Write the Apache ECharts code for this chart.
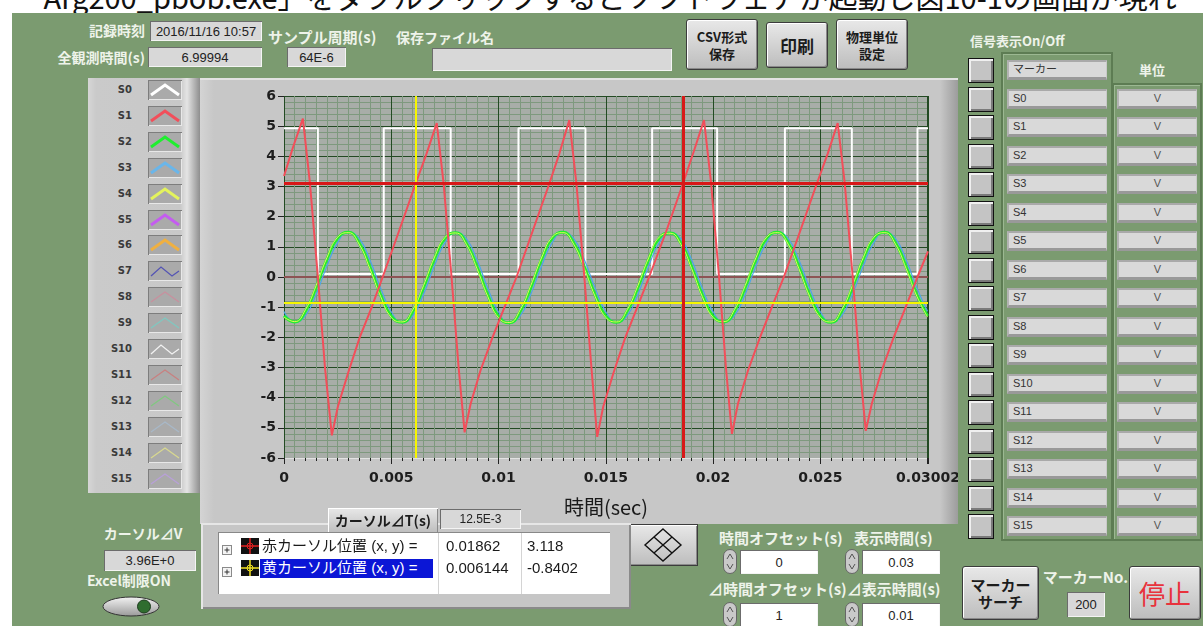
<!DOCTYPE html>
<html>
<head>
<meta charset="utf-8">
<script src="https://cdn.jsdelivr.net/npm/echarts@6/dist/echarts.min.js"></script>
<style>
html, body { margin: 0; padding: 0; width: 1203px; height: 626px; overflow: hidden; background: #fff; }
#page { position: relative; width: 1203px; height: 626px; overflow: hidden; }
.a { position: absolute; box-sizing: border-box; white-space: nowrap; }
.doc { font: 29px/32px "Noto Sans CJK JP", sans-serif; color: #111; z-index: 0; }
.green { background: #7b9b70; z-index: 1; }
.lbl { font: bold 14px/18px "Noto Sans CJK JP", sans-serif; color: #eef3ea; z-index: 2; }
.r { text-align: right; }
.c { text-align: center; }
.ind { background: #d8d8d8; box-shadow: inset 1px 1px 0 #6c6c6c, inset -1px -1px 0 #f4f4f4;
       font: 13px "Liberation Sans", "Noto Sans CJK JP", sans-serif; color: #222;
       display: flex; align-items: center; justify-content: center; z-index: 2; }
.btn { background: linear-gradient(#e8e8e8, #bdbdbd); border: 1px solid #3c3c3c; border-radius: 3px;
       box-shadow: inset 1px 1px 0 #fff, inset -1px -1px 0 #8a8a8a;
       font: bold 13px/17px "Noto Sans CJK JP", sans-serif; color: #1c1c1c;
       display: flex; flex-direction: column; align-items: center; justify-content: center; z-index: 2; }
.tog { background: #c4c4c4; border: 1px solid #111; box-shadow: inset 2px 2px 0 #f0f0f0, inset -2px -2px 0 #7a7a7a; z-index: 2; }
.nbox { background: #d9d9d9; border-top: 2px solid #a9a9a9; border-left: 2px solid #b3b3b3;
        border-bottom: 3px solid #999; border-right: 1px solid #c9c9c9;
        font: 11px/15px "Liberation Sans", "Noto Sans CJK JP", sans-serif; color: #333; padding-left: 4px; z-index: 2; }
.ubox { text-align: center; padding-left: 0; color: #555; }
.groove { border: 2px solid #5d7c53; box-shadow: inset 1px 1px 0 #9cb892; z-index: 2; }
.lpanel { background: linear-gradient(to right, #d6d6d6 0, #cacaca 8px, #c8c8c8 92px, #e4e4e4 99px, #8e8e8e 112px); z-index: 2; }
.gpanel { background: linear-gradient(to right, #d4d4d4 0, #c7c7c7 14px, #c7c7c7 740px, #9c9c9c 758px);
          box-shadow: inset 0 2px 0 #e2e2e2; z-index: 2; }
.slbl { font: bold 10px/14px "DejaVu Sans", sans-serif; color: #3a3a3a; text-align: right; z-index: 3; }
.cpanel { background: #c6c6c6; box-shadow: inset 2px 2px 0 #e6e6e6, inset -2px -2px 0 #8a8a8a; z-index: 4; }
.table { background: #fff; box-shadow: inset 1px 1px 0 #888; z-index: 5; }
.cell { font: 15px/18px "Liberation Sans", "Noto Sans CJK JP", sans-serif; color: #1a1a1a; z-index: 6; }
.sep { background: #d4d4d4; z-index: 6; }
#plot { z-index: 3; }
</style>
</head>
<body>
<div id="page"></div>
<script>
// ---- values ----
const signalNames = ['S0','S1','S2','S3','S4','S5','S6','S7','S8','S9','S10','S11','S12','S13','S14','S15'];
const signalColors = ['#ffffff','#f24e5a','#1fef2f','#6ab6ea','#e4f35c','#c45cf0','#f0b040','#5454b4',
                      '#c8909e','#80c8c0','#f2f2f2','#c88080','#80c880','#a8b8c8','#d8d890','#b8a0d8'];
const unitLabels = ['V','V','V','V','V','V','V','V','V','V','V','V','V','V','V','V'];

// S0 square wave (time in ms, volts)
const s0Ms  = [0, 1.58, 1.58, 4.65, 4.65, 7.77, 7.77, 10.93, 10.93, 14.05, 14.05, 17.16, 17.16, 20.19, 20.19, 23.35, 23.35, 26.47, 26.47, 29.53, 29.53, 30.02];
const s0Val = [4.93, 4.93, 0.1, 0.1, 4.93, 4.93, 0.1, 0.1, 4.93, 4.93, 0.1, 0.1, 4.93, 4.93, 0.1, 0.1, 4.93, 4.93, 0.1, 0.1, 4.93, 4.93];

// S1 triangle / sawtooth (time in ms, volts)
const s1Ms  = [0, 0.42, 0.88, 1.21, 1.58, 1.91, 2.23, 2.51, 2.98, 3.53, 4.09, 4.60, 5.35, 6.14, 6.65,
               7.12, 7.44, 7.81, 8.14, 8.42, 8.70, 9.16, 9.72, 10.28, 10.84, 11.58, 12.37, 12.84,
               13.30, 13.63, 14.00, 14.33, 14.60, 14.88, 15.35, 15.91, 16.47, 17.02, 17.81, 18.60, 19.12,
               19.58, 19.91, 20.28, 20.60, 20.88, 21.16, 21.63, 22.19, 22.74, 23.30, 24.05, 24.84, 25.35,
               25.81, 26.14, 26.51, 26.84, 27.12, 27.40, 27.86, 28.42, 28.98, 29.53, 30.02];
const s1Val = [3.35, 4.3, 5.25, 3.1, 0, -3.0, -5.25, -4.3, -3.2, -2.0, -1.0, 0, 1.5, 3.1, 4.1,
               5.1, 3.1, 0, -3.0, -5.15, -4.2, -3.1, -2.0, -1.0, 0, 1.5, 3.1, 4.1,
               5.2, 3.1, 0, -3.0, -5.3, -4.3, -3.2, -2.0, -1.0, 0, 1.5, 3.1, 4.2,
               5.2, 3.1, 0, -3.0, -5.2, -4.2, -3.1, -2.0, -1.0, 0, 1.5, 3.1, 4.1,
               5.1, 3.1, 0, -3.0, -5.1, -4.2, -3.1, -2.0, -1.0, 0, 0.85];

// S2 / S3 / S4 sine-like traces sampled every 0.5 ms
const sineMs = [0,0.5,1,1.5,2,2.5,3,3.5,4,4.5,5,5.5,6,6.5,7,7.5,8,8.5,9,9.5,10,10.5,11,11.5,12,12.5,13,13.5,14,14.5,
                15,15.5,16,16.5,17,17.5,18,18.5,19,19.5,20,20.5,21,21.5,22,22.5,23,23.5,24,24.5,25,25.5,26,26.5,27,27.5,28,28.5,29,29.5,30];
const s2 = [-1.29,-1.49,-1.13,-0.34,0.59,1.29,1.48,1.13,0.34,-0.59,
            -1.30,-1.50,-1.14,-0.35,0.58,1.28,1.47,1.12,0.33,-0.60,
            -1.31,-1.52,-1.15,-0.35,0.58,1.29,1.48,1.13,0.34,-0.59,
            -1.30,-1.50,-1.13,-0.34,0.59,1.30,1.46,1.12,0.34,-0.60,
            -1.30,-1.49,-1.13,-0.34,0.59,1.29,1.48,1.13,0.34,-0.59,
            -1.30,-1.50,-1.13,-0.34,0.59,1.29,1.48,1.13,0.34,-0.59,
            -1.29];
const s3 = [-1.14,-1.50,-1.28,-0.57,0.36,1.14,1.49,1.28,0.57,-0.36,
            -1.15,-1.51,-1.29,-0.58,0.35,1.13,1.48,1.27,0.56,-0.37,
            -1.16,-1.53,-1.30,-0.58,0.35,1.14,1.49,1.28,0.57,-0.36,
            -1.15,-1.51,-1.28,-0.57,0.36,1.15,1.47,1.27,0.57,-0.37,
            -1.15,-1.49,-1.28,-0.57,0.36,1.14,1.49,1.28,0.57,-0.36,
            -1.15,-1.51,-1.28,-0.57,0.36,1.14,1.49,1.28,0.57,-0.36,
            -1.14];
const s4 = [-1.33,-1.48,-1.08,-0.28,0.64,1.32,1.47,1.09,0.28,-0.64,
            -1.34,-1.49,-1.09,-0.29,0.63,1.31,1.46,1.08,0.27,-0.65,
            -1.35,-1.51,-1.10,-0.29,0.63,1.32,1.47,1.09,0.28,-0.64,
            -1.34,-1.49,-1.08,-0.28,0.64,1.33,1.45,1.08,0.28,-0.65,
            -1.34,-1.48,-1.08,-0.28,0.64,1.32,1.47,1.09,0.28,-0.64,
            -1.34,-1.49,-1.08,-0.28,0.64,1.32,1.47,1.09,0.28,-0.64,
            -1.33];
// S5..S15 all sit on 0
const zeroMs = [0, 30.02];
const zeroVal = [0, 0];

const cursorRed = [0.01862, 3.118];
const cursorYellow = [0.006144, -0.8402];

// ---- page widgets ----
const page = document.getElementById('page');
function el(x, y, w, h, cls, html, style) {
  const d = document.createElement('div');
  d.className = 'a ' + (cls || '');
  d.style.left = x + 'px';
  d.style.top = y + 'px';
  if (w != null) d.style.width = w + 'px';
  if (h != null) d.style.height = h + 'px';
  if (html != null) d.innerHTML = html;
  if (style) Object.assign(d.style, style);
  page.appendChild(d);
  return d;
}

el(8, -20, 1195, 32, 'doc', 'ー Arg200_pbob.exe」をダブルクリックするとソフトウェアが起動し図10-1の画面が現れ');
el(12, 13, 1191, 613, 'green');

// top row
el(40, 21, 105, 18, 'lbl r', '記録時刻');
el(150, 21, 112, 20, 'ind', '2016/11/16 10:57');
el(20, 48, 125, 18, 'lbl r', '全観測時間(s)');
el(148, 47, 114, 20, 'ind', '6.99994');
el(268, 28, 110, 18, 'lbl', 'サンプル周期(s)', {fontSize: '15px'});
el(287, 47, 59, 20, 'ind', '64E-6');
el(396, 28, 100, 18, 'lbl', '保存ファイル名');
el(432, 48, 240, 23, 'ind', '');
el(686, 19, 72, 51, 'btn', '<span>CSV形式</span><span>保存</span>');
el(766, 22, 62, 46, 'btn', '<span style="font-size:17px">印刷</span>');
el(836, 19, 72, 51, 'btn', '<span>物理単位</span><span>設定</span>');
el(970, 32, 130, 18, 'lbl', '信号表示On/Off', {fontSize: '13px'});
el(1117, 61, 70, 18, 'lbl c', '単位', {fontSize: '13px'});

// right signal list
el(1001, 52, 112, 489, 'groove');
el(1112, 83, 90, 458, 'groove');
['マーカー'].concat(signalNames).forEach((n, i) => {
  const top = 60 + i * 28.5;
  el(968, top - 2, 26, 25, 'tog');
  el(1007, top, 100, 20, 'nbox', n);
  if (i > 0) el(1117, top, 80, 20, 'nbox ubox', unitLabels[i - 1]);
});

// left legend
el(88, 78, 112, 415, 'lpanel');
function icon(color, thin, tail) {
  const w = thin ? 1.3 : 3;
  const pts = tail ? '3,15 13,6 24,15 31,10' : '3,15 17,5 31,15';
  return '<svg width="34" height="20"><rect x="0.5" y="0.5" width="33" height="19" fill="#aaaaaa" stroke="#7d7d7d"/>' +
         '<line x1="1" y1="19.5" x2="34" y2="19.5" stroke="#e8e8e8"/><line x1="33.5" y1="1" x2="33.5" y2="20" stroke="#e8e8e8"/>' +
         '<polyline points="' + pts + '" fill="none" stroke="' + color + '" stroke-width="' + w + '"/></svg>';
}
signalNames.forEach((n, i) => {
  const cy = 90 + i * 25.9;
  el(96, cy - 7, 36, 14, 'slbl', n);
  el(148, cy - 10, 34, 20, '', icon(signalColors[i], i >= 7, i === 7 || i === 10), {zIndex: 3});
});

// graph panel + chart
el(200, 78, 758, 446, 'gpanel');
const plot = el(200, 78, 758, 446, '', null);
plot.id = 'plot';

// cursor panel
el(201, 523, 430, 86, 'cpanel');
el(328, 508, 110, 25, 'btn', '<span style="font-size:14px">カーソル⊿T(s)</span>', {zIndex: 5, borderRadius: '0', border: 'none'});
el(440, 509, 81, 20, 'ind', '<span style="font-size:12px">12.5E-3</span>', {zIndex: 5});
el(218, 532, 392, 62, 'table');
el(438, 533, 1, 61, 'sep');
el(521, 533, 1, 61, 'sep');
function plusBox() {
  return '<svg width="10" height="10"><rect x="0.5" y="0.5" width="9" height="9" fill="#f4f4f4" stroke="#8a8a8a"/>' +
         '<line x1="2.5" y1="5" x2="7.5" y2="5" stroke="#333"/><line x1="5" y1="2.5" x2="5" y2="7.5" stroke="#333"/></svg>';
}
function crossIcon(color) {
  return '<svg width="18" height="16"><rect x="0" y="0" width="18" height="16" fill="#111"/>' +
         '<line x1="0" y1="8" x2="18" y2="8" stroke="' + color + '" stroke-width="1.5"/>' +
         '<line x1="9" y1="0" x2="9" y2="16" stroke="' + color + '" stroke-width="1.5"/>' +
         '<circle cx="9" cy="8" r="3" fill="none" stroke="' + color + '"/></svg>';
}
el(222, 541, 10, 10, '', plusBox(), {zIndex: 6});
el(241, 538, 18, 16, '', crossIcon('#e02020'), {zIndex: 6});
el(262, 537, 172, 18, 'cell', '赤カーソル位置 (x, y) =');
el(446, 537, 70, 18, 'cell', '0.01862');
el(527, 537, 70, 18, 'cell', '3.118');
el(222, 563, 10, 10, '', plusBox(), {zIndex: 6});
el(241, 560, 18, 16, '', crossIcon('#f0e020'), {zIndex: 6});
el(260, 559, 173, 19, 'cell', '黄カーソル位置 (x, y) =', {background: '#0b16d6', color: '#fff', paddingLeft: '2px'});
el(446, 559, 70, 18, 'cell', '0.006144');
el(527, 559, 70, 18, 'cell', '-0.8402');

// bottom left
el(88, 524, 110, 18, 'lbl c', 'カーソル⊿V');
el(104, 550, 92, 21, 'ind', '3.96E+0');
el(70, 571, 118, 18, 'lbl c', 'Excel制限ON');
el(102, 596, 58, 21, '', '<svg width="58" height="21"><defs><linearGradient id="tg" x1="0" y1="0" x2="0" y2="1">' +
   '<stop offset="0" stop-color="#f2f2f2"/><stop offset="1" stop-color="#9a9a9a"/></linearGradient></defs>' +
   '<ellipse cx="29" cy="10.5" rx="28" ry="9.5" fill="url(#tg)" stroke="#333"/>' +
   '<circle cx="42" cy="10.5" r="6.5" fill="#2f6d2f" stroke="#1b3b1b"/></svg>', {zIndex: 2});

// bottom right controls
el(628, 524, 70, 42, 'btn', '<svg width="40" height="36" viewBox="0 0 40 36">' +
   '<path d="M20 2 L38 18 L20 34 L2 18 Z M11 10 L29 26 M29 10 L11 26" fill="none" stroke="#111" stroke-width="1.4"/></svg>',
   {borderRadius: '0'});
function spinner() {
  return '<svg width="14" height="25"><rect x="0.5" y="0.5" width="13" height="24" rx="6.5" fill="#c9c9c9" stroke="#666"/>' +
         '<path d="M4 10 L7 5 L10 10 M4 15 L7 20 L10 15" fill="none" stroke="#555"/></svg>';
}
el(719, 529, 124, 18, 'lbl', '時間オフセット(s)', {fontSize: '15px'});
el(854, 529, 90, 18, 'lbl', '表示時間(s)', {fontSize: '15px'});
el(723, 549, 14, 25, '', spinner(), {zIndex: 2});
el(740, 550, 78, 24, 'ind', '0', {background: '#fff'});
el(845, 549, 14, 25, '', spinner(), {zIndex: 2});
el(862, 550, 78, 24, 'ind', '0.03', {background: '#fff'});
el(708, 580, 240, 18, 'lbl', '⊿時間オフセット(s)⊿表示時間(s)', {fontSize: '15px'});
el(723, 602, 14, 25, '', spinner(), {zIndex: 2});
el(740, 603, 78, 24, 'ind', '1', {background: '#fff'});
el(845, 602, 14, 25, '', spinner(), {zIndex: 2});
el(862, 603, 78, 24, 'ind', '0.01', {background: '#fff'});
el(962, 566, 77, 54, 'btn', '<span style="font-size:15px">マーカー</span><span style="font-size:15px">サーチ</span>');
el(1038, 568, 95, 18, 'lbl c', 'マーカーNo.', {fontSize: '15px'});
el(1067, 592, 38, 25, 'ind', '200');
el(1129, 566, 72, 54, 'btn', '<span style="font:26px/30px \'Noto Sans CJK JP\';color:#e8323c">停止</span>');

// ---- the chart ----
const toPairs = (ms, vals) => ms.map((t, i) => [t / 1000, vals[i]]);
const axisFont = {fontFamily: 'DejaVu Sans', fontWeight: 'bold', fontSize: 14, color: '#1e1e1e'};

const chart = echarts.init(plot);
chart.setOption({
  animation: false,
  grid: {left: 84, top: 18, width: 644, height: 362, show: true, backgroundColor: '#a8ada8', borderWidth: 0,
         containLabel: false, outerBoundsMode: 'none'},
  xAxis: {
    type: 'value', min: 0, max: 0.03002, interval: 0.005,
    axisLine: {show: true, onZero: false, lineStyle: {color: '#e2e2e2', width: 1}},
    axisTick: {show: true, length: 6, lineStyle: {color: '#222'}},
    minorTick: {show: true, splitNumber: 10, length: 3, lineStyle: {color: '#222'}},
    splitLine: {show: true, lineStyle: {color: '#234a23', width: 1}},
    minorSplitLine: {show: true, lineStyle: {color: '#7e997e', width: 1}},
    axisLabel: Object.assign({margin: 13, formatter: v => Math.abs(v - 0.03) < 1e-9 ? '' : (v > 0.03 ? '0.03002' : String(+v.toFixed(4)))}, axisFont),
    name: '時間(sec)', nameLocation: 'middle', nameGap: 39,
    nameTextStyle: {fontSize: 20, fontFamily: 'Noto Sans CJK JP', color: '#1a1a1a'}
  },
  yAxis: {
    type: 'value', min: -6, max: 6, interval: 1,
    axisLine: {show: false},
    axisTick: {show: true, length: 6, lineStyle: {color: '#222'}},
    minorTick: {show: false, splitNumber: 5},
    splitLine: {show: true, lineStyle: {color: '#234a23', width: 1}},
    minorSplitLine: {show: true, lineStyle: {color: '#7e997e', width: 1}},
    axisLabel: Object.assign({margin: 8}, axisFont)
  },
  series: [
    {name: 'S5-S15', type: 'line', data: toPairs(zeroMs, zeroVal), symbol: 'none', silent: true,
     lineStyle: {color: '#8d5454', width: 2}},
    {name: 'S0', type: 'line', data: toPairs(s0Ms, s0Val), symbol: 'none', lineStyle: {color: signalColors[0], width: 2}},
    {name: 'S3', type: 'line', data: toPairs(sineMs, s3), symbol: 'none', smooth: true, lineStyle: {color: '#4aa6e8', width: 1.2}},
    {name: 'S2', type: 'line', data: toPairs(sineMs, s2), symbol: 'none', smooth: true, lineStyle: {color: signalColors[2], width: 3}},
    {name: 'S4', type: 'line', data: toPairs(sineMs, s4), symbol: 'none', smooth: true, lineStyle: {color: '#e6f55a', width: 1}},
    {name: 'S1', type: 'line', data: toPairs(s1Ms, s1Val), symbol: 'none', lineStyle: {color: signalColors[1], width: 2},
     markLine: {
       silent: true, symbol: ['none', 'none'], label: {show: false}, animation: false, precision: 6,
       data: [
         {xAxis: cursorYellow[0], lineStyle: {color: '#f6f600', width: 2, type: 'solid'}},
         {yAxis: cursorYellow[1], lineStyle: {color: '#f6f600', width: 2, type: 'solid'}},
         {xAxis: cursorRed[0], lineStyle: {color: '#d81818', width: 3, type: 'solid'}},
         {yAxis: cursorRed[1], lineStyle: {color: '#d81818', width: 3, type: 'solid'}}
       ]
     }}
  ]
});
</script>
</body>
</html>
